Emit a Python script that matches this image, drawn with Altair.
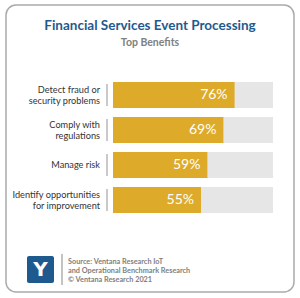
import altair as alt
import pandas as pd

categories = ["Detect fraud or\nsecurity problems", "Comply with\nregulations", "Manage risk",
              "Identify opportunities\nfor improvement"]
values = [76, 69, 59, 55]
full_scale = [100, 100, 100, 100]
title_text = "Financial Services Event Processing"
subtitle_text = "Top Benefits"
footer_lines = ["Source: Ventana Research IoT", "and Operational Benchmark Research", "© Ventana Research 2021"]

df = pd.DataFrame({"cat": categories, "value": values, "full": full_scale,
                   "label": [f"{v}%" for v in values],
                   "nlines": [c.count("\n") + 1 for c in categories]})

GOLD = "#DDAB29"
GREY = "#E6E6E7"
BLUE = "#1F5A8E"
FONT = "Lato"

xs = alt.Scale(domain=[0, 100], range=[107, 267])
ys = alt.Scale(domain=categories, range=[72.5, 212.5], paddingInner=0.26, paddingOuter=0.13)
X = lambda f: alt.X(f, type="quantitative", scale=xs, axis=None)
Y = alt.Y("cat:N", scale=ys, axis=None, sort=categories)

base = alt.Chart(df)
bg = base.mark_bar(color=GREY).encode(x=X("full"), y=Y)
bars = base.mark_bar(color=GOLD).encode(x=X("value"), y=Y)
pct = base.mark_text(align="right", baseline="middle", dx=-7, color="white", fontSize=14,
                     font=FONT).encode(x=X("value"), y=Y, text="label:N")
labels2 = base.transform_filter("datum.nlines == 2").mark_text(
    align="right", baseline="middle", color="#333333", fontSize=9.2, dy=-5,
    font=FONT, lineBreak="\n", lineHeight=10.5).encode(x=alt.value(94), y=Y, text="cat:N")
labels1 = base.transform_filter("datum.nlines == 1").mark_text(
    align="right", baseline="middle", color="#333333", fontSize=9.2,
    font=FONT).encode(x=alt.value(94), y=Y, text="cat:N")
seps = base.mark_tick(color="#666666", thickness=1, size=22, orient="vertical").encode(
    x=alt.value(101), y=Y)

one = alt.Data(values=[{}])
title = alt.Chart(one).mark_text(align="center", baseline="middle", fontSize=13.5, fontWeight="bold",
                                 font=FONT, color=BLUE).encode(
    x=alt.value(144), y=alt.value(21), text=alt.value(title_text))
subtitle = alt.Chart(one).mark_text(align="center", baseline="middle", fontSize=10.5, fontWeight="bold",
                                    font=FONT, color="#808080").encode(
    x=alt.value(144), y=alt.value(38), text=alt.value(subtitle_text))

logo = alt.Chart(one).mark_rect(color=BLUE, cornerRadius=2).encode(
    x=alt.value(21), x2=alt.value(48), y=alt.value(251), y2=alt.value(278))
logo_glyph = alt.Chart(one).mark_text(align="center", baseline="middle", fontSize=20, fontWeight="bold",
                                      font="DejaVu Sans", color="white").encode(
    x=alt.value(34.5), y=alt.value(265), text=alt.value("Y"))
vline = alt.Chart(one).mark_rule(color="#888888", strokeWidth=1).encode(
    x=alt.value(56), y=alt.value(249), y2=alt.value(280))

footer = [
    alt.Chart(one).mark_text(align="left", baseline="middle", fontSize=7.3, fontWeight="bold",
                             font=FONT, color="#808080").encode(
        x=alt.value(62), y=alt.value(257 + 9 * i), text=alt.value(line))
    for i, line in enumerate(footer_lines)
]

chart = alt.layer(bg, bars, pct, labels2, labels1, seps, title, subtitle, logo, logo_glyph, vline,
                  *footer).properties(
    width=288, height=287,
    padding={"left": 6, "top": 5, "right": 6, "bottom": 6},
    autosize=alt.AutoSizeParams(type="none"),
    background="white",
).configure_view(stroke="#AAAAAA", strokeWidth=1.5, cornerRadius=10)

chart.save("out.html", embed_options={"renderer": "svg", "actions": False})
